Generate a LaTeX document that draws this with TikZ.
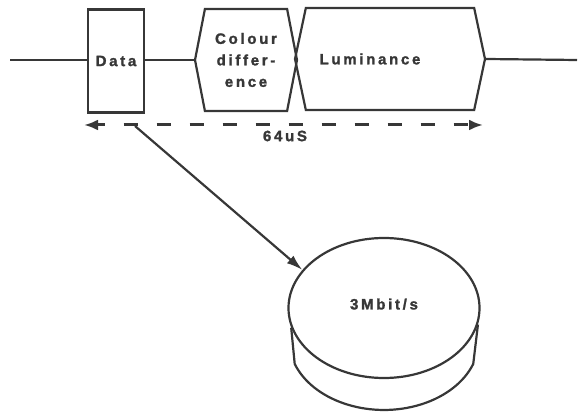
\documentclass[tikz,border=0pt]{standalone}
\usepackage{fontspec}
\newfontfamily\diagfont{Liberation Sans Bold}[LetterSpace=18, FakeBold=1.6]
\usetikzlibrary{shapes.symbols, shapes.geometric, arrows.meta, positioning, calc}
\definecolor{ink}{RGB}{55,55,55}

\begin{document}
\begin{tikzpicture}[x=1pt, y=1pt, line width=2.2pt, color=ink,
    lbl/.style={font=\diagfont\fontsize{15}{21.5}\selectfont, text=ink},
    slot/.style={draw, signal, signal to=west and east, minimum height=102pt, inner sep=0pt},
    spanhead/.tip={Latex[length=14pt, width=11pt]},
    taphead/.tip={Latex[length=16pt, width=10pt]}]
    \useasboundingbox (0,0) rectangle (578,412);

    % line segments of one TV line
    \node[draw, lbl, minimum width=56pt, minimum height=103pt, inner sep=0pt] (data) at (116,351) {Data};
    \node[slot, lbl, align=center, minimum width=102pt, signal pointer angle=158] (colour) at (246,352) {Colour\\differ-\\ence};
    \node[slot, minimum width=190pt, signal pointer angle=156,
        label={[lbl, xshift=-20pt]center:Luminance}] (luma) at (390,353) {};

    \coordinate (lin) at (10,352);
    \coordinate (lout) at (577,352);
    \draw (lin) -- (lin -| data.west);
    \draw (lin -| data.east) -- (colour.west);
    \draw (luma.east) -- (lout);

    % line period
    \coordinate (tl) at (84,287);
    \coordinate (tr) at (483,287);
    \draw[spanhead-spanhead, line width=3pt,
        dash pattern=on 14pt off 19pt, dash phase=6pt] (tl) -- (tr);
    \node[lbl] (period) at (285,276) {64uS};

    % data disc
    \node[ellipse, draw, lbl, text depth=8pt, minimum width=191pt, minimum height=140pt, inner sep=0pt] (disc) at (384,104) {3Mbit/s};
    \coordinate (rimL) at (294.7,48.1);
    \draw (disc.192) -- (rimL) arc[start angle=200, end angle=340, x radius=95pt, y radius=70pt] -- (disc.350);

    \coordinate (tap) at (135,286);
    \draw[-taphead] (tap) -- (disc.155);
\end{tikzpicture}
\end{document}
